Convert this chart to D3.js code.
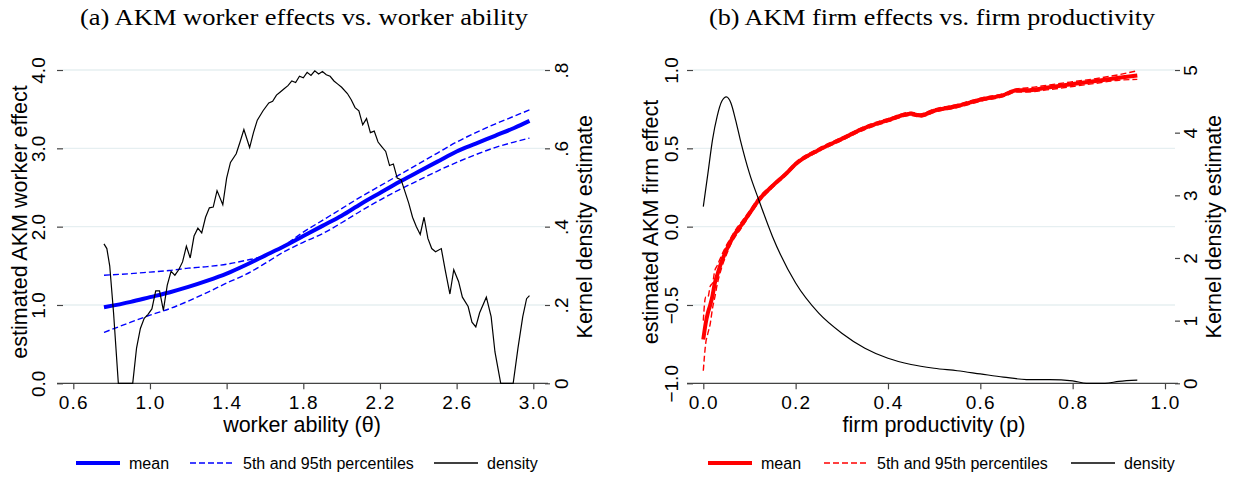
<!DOCTYPE html>
<html>
<head>
<meta charset="utf-8">
<script src="https://cdn.jsdelivr.net/npm/d3@7"></script>
<style>
  body { margin: 0; background: #fff; }
  svg { display: block; }
  text { font-family: "Liberation Sans", Arial, sans-serif; fill: #000; }
  .title { font-family: "Liberation Serif", "DejaVu Serif", serif; font-size: 23px; }
  .tick text { font-size: 19px; }
  .axisTitle { font-size: 21.5px; }
  .legendText { font-size: 16px; }
</style>
</head>
<body>
<div id="chart"></div>
<script>
// panel (a): worker ability grid and AKM worker effects
let abilityGrid = [0.76, 0.9, 1.0, 1.1, 1.2, 1.3, 1.4, 1.5, 1.6, 1.7, 1.8, 1.9, 2.0, 2.1, 2.2, 2.3, 2.4, 2.5, 2.6, 2.7, 2.8, 2.9, 2.98];
let workerMean = [0.97, 1.04, 1.10, 1.16, 1.23, 1.31, 1.40, 1.51, 1.63, 1.75, 1.88, 2.01, 2.14, 2.29, 2.43, 2.57, 2.70, 2.83, 2.96, 3.06, 3.16, 3.26, 3.35];
let workerP95 = [1.38, 1.40, 1.42, 1.44, 1.47, 1.49, 1.52, 1.57, 1.63, 1.76, 1.93, 2.08, 2.23, 2.38, 2.52, 2.66, 2.80, 2.94, 3.08, 3.20, 3.31, 3.41, 3.49];
let workerP5 = [0.65, 0.78, 0.87, 0.95, 1.05, 1.16, 1.28, 1.39, 1.53, 1.68, 1.80, 1.91, 2.05, 2.20, 2.34, 2.47, 2.59, 2.71, 2.82, 2.92, 3.01, 3.08, 3.13];

// panel (a): kernel density of worker ability
let densAx = [0.76, 0.775, 0.79, 0.81, 0.835, 0.91, 0.93, 0.95, 0.97, 0.99, 1.01, 1.03, 1.05, 1.07, 1.09, 1.11, 1.13, 1.15, 1.17, 1.19,
  1.21, 1.23, 1.25, 1.27, 1.29, 1.31, 1.33, 1.35, 1.38, 1.40, 1.42, 1.45, 1.47, 1.49, 1.52, 1.54, 1.56, 1.59, 1.62, 1.64,
  1.66, 1.68, 1.70, 1.72, 1.74, 1.76, 1.78, 1.80, 1.82, 1.84, 1.86, 1.88, 1.90, 1.92, 1.94, 1.96, 1.98, 2.00, 2.03, 2.05,
  2.07, 2.09, 2.11, 2.13, 2.15, 2.17, 2.19, 2.21, 2.23, 2.25, 2.27, 2.29, 2.31, 2.33, 2.35, 2.37, 2.39, 2.41, 2.43, 2.45,
  2.47, 2.49, 2.52, 2.54, 2.565, 2.585, 2.61, 2.63, 2.66, 2.68, 2.70, 2.72, 2.755, 2.78, 2.80, 2.83, 2.895, 2.92, 2.945, 2.965, 2.98];
let densAy = [0.356, 0.344, 0.30, 0.18, 0, 0, 0.09, 0.14, 0.166, 0.176, 0.19, 0.236, 0.236, 0.186, 0.25, 0.286, 0.276, 0.29, 0.31, 0.35,
  0.32, 0.376, 0.396, 0.384, 0.424, 0.448, 0.45, 0.492, 0.456, 0.524, 0.564, 0.586, 0.616, 0.648, 0.602, 0.64, 0.672, 0.696, 0.716, 0.72,
  0.736, 0.744, 0.752, 0.76, 0.772, 0.768, 0.784, 0.78, 0.794, 0.786, 0.798, 0.79, 0.796, 0.788, 0.784, 0.772, 0.764, 0.756, 0.74, 0.724,
  0.704, 0.696, 0.66, 0.676, 0.64, 0.644, 0.616, 0.604, 0.592, 0.556, 0.56, 0.524, 0.52, 0.49, 0.46, 0.424, 0.40, 0.38, 0.424, 0.37,
  0.344, 0.336, 0.344, 0.29, 0.228, 0.29, 0.26, 0.22, 0.196, 0.156, 0.144, 0.18, 0.22, 0.17, 0.08, 0, 0, 0.09, 0.17, 0.216, 0.224];

// panel (b): firm productivity grid and AKM firm effects
let prodGrid = [0, 0.005, 0.01, 0.015, 0.02, 0.025, 0.03, 0.04, 0.05, 0.06, 0.07, 0.08, 0.10, 0.12, 0.15, 0.18, 0.2, 0.25, 0.3, 0.35,
  0.4, 0.45, 0.47, 0.5, 0.55, 0.6, 0.65, 0.68, 0.7, 0.75, 0.8, 0.85, 0.9, 0.94];
let firmMean = [-0.72, -0.62, -0.55, -0.50, -0.44, -0.36, -0.31, -0.22, -0.15, -0.09, -0.04, 0.0, 0.085, 0.17, 0.26, 0.34, 0.40, 0.49, 0.56, 0.63,
  0.68, 0.72, 0.71, 0.74, 0.77, 0.81, 0.84, 0.87, 0.87, 0.89, 0.91, 0.93, 0.95, 0.965];
let firmP95 = [-0.60, -0.45, -0.45, -0.38, -0.36, -0.28, -0.25, -0.18, -0.12, -0.07, -0.02, 0.02, 0.10, 0.185, 0.27, 0.35, 0.41, 0.50, 0.57, 0.64,
  0.69, 0.73, 0.72, 0.75, 0.78, 0.82, 0.85, 0.88, 0.885, 0.905, 0.925, 0.945, 0.97, 0.995];
let firmP5 = [-0.92, -0.75, -0.68, -0.62, -0.52, -0.45, -0.37, -0.26, -0.18, -0.11, -0.06, -0.02, 0.07, 0.155, 0.25, 0.33, 0.39, 0.48, 0.55, 0.62,
  0.67, 0.71, 0.70, 0.73, 0.76, 0.80, 0.83, 0.86, 0.86, 0.875, 0.895, 0.915, 0.935, 0.94];

// panel (b): kernel density of firm productivity
let densBx = [0, 0.01, 0.02, 0.03, 0.04, 0.05, 0.06, 0.07, 0.08, 0.1, 0.12, 0.15, 0.2, 0.25, 0.3, 0.35, 0.4, 0.45, 0.5, 0.55,
  0.6, 0.65, 0.7, 0.75, 0.8, 0.83, 0.87, 0.9, 0.94];
let densBy = [2.82, 3.35, 3.89, 4.26, 4.5, 4.57, 4.47, 4.2, 3.89, 3.35, 2.93, 2.34, 1.6, 1.12, 0.8, 0.56, 0.4, 0.3, 0.24, 0.2,
  0.15, 0.1, 0.06, 0.06, 0.04, 0, 0, 0.03, 0.05];

// tick values
let ticksAx = [0.6, 1.0, 1.4, 1.8, 2.2, 2.6, 3.0];
let ticksAy = [0, 1, 2, 3, 4];
let ticksAy2 = [0, 0.2, 0.4, 0.6, 0.8];
let ticksBx = [0, 0.2, 0.4, 0.6, 0.8, 1.0];
let ticksBy = [-1, -0.5, 0, 0.5, 1];
let ticksBy2 = [0, 1, 2, 3, 4, 5];

let svgWidth = 1233;
let svgHeight = 477;

let svg = d3.select("#chart")
  .append("svg")
  .attr("width", svgWidth)
  .attr("height", svgHeight);

// draws one panel; cfg holds the layout numbers
function drawPanel(cfg) {
  let g = svg.append("g");
  let x = d3.scaleLinear().domain(cfg.xDomain).range(cfg.xRange);
  let y = d3.scaleLinear().domain(cfg.yDomain).range([383.3, 70]);
  let y2 = d3.scaleLinear().domain(cfg.y2Domain).range([383.3, 70]);

  // gridlines
  g.selectAll("line.grid")
    .data(cfg.yTicks)
    .enter()
    .append("line")
    .attr("x1", cfg.left)
    .attr("x2", cfg.right)
    .attr("y1", d => y(d))
    .attr("y2", d => y(d))
    .attr("stroke", "#e6eff1")
    .attr("stroke-width", 1.3);

  // x axis
  let xAxis = g.append("g")
    .attr("transform", "translate(0, 383.3)")
    .call(d3.axisBottom(x).tickValues(cfg.xTicks).tickSize(6).tickFormat(d3.format(".1f")));
  xAxis.select(".domain").remove();
  xAxis.selectAll(".tick line").attr("stroke", "#444").attr("stroke-width", 1.2);
  xAxis.selectAll(".tick text").attr("y", 26).attr("dy", null).style("letter-spacing", "1.2px");
  g.append("line")
    .attr("x1", cfg.left - 6)
    .attr("x2", cfg.right + 3)
    .attr("y1", 383.3)
    .attr("y2", 383.3)
    .attr("stroke", "#444")
    .attr("stroke-width", 1.3);

  // left axis
  let yAxis = g.append("g")
    .attr("transform", `translate(${cfg.left}, 0)`)
    .call(d3.axisLeft(y).tickValues(cfg.yTicks).tickSize(6).tickFormat(d3.format(".1f")));
  yAxis.select(".domain").remove();
  yAxis.selectAll(".tick line").attr("stroke", "#444").attr("stroke-width", 1.2);
  yAxis.selectAll(".tick text")
    .attr("x", null).attr("dy", null)
    .attr("text-anchor", "middle")
    .attr("transform", `translate(${cfg.yLabelOff}, 0) rotate(-90)`);

  // right axis
  let y2Axis = g.append("g")
    .attr("transform", `translate(${cfg.right}, 0)`)
    .call(d3.axisRight(y2).tickValues(cfg.y2Ticks).tickSize(5).tickFormat(cfg.y2Format));
  y2Axis.select(".domain").remove();
  y2Axis.selectAll(".tick line").attr("stroke", "#444").attr("stroke-width", 1.2);
  y2Axis.selectAll(".tick text")
    .attr("x", null).attr("dy", null)
    .attr("text-anchor", "middle")
    .attr("transform", `translate(${cfg.y2LabelOff}, 0) rotate(-90)`);

  // series
  let line = d3.line().x(d => x(d[0])).y(d => y(d[1]));
  let line2 = d3.line().x(d => x(d[0])).y(d => y2(d[1]));
  let zip = (a, b) => a.map((v, i) => [v, b[i]]);

  g.append("path")
    .attr("d", line.curve(d3.curveMonotoneX)(zip(cfg.grid, cfg.mean)))
    .attr("fill", "none").attr("stroke", cfg.color).attr("stroke-width", 4);
  [cfg.p5, cfg.p95].forEach(p => {
    g.append("path")
      .attr("d", line.curve(d3.curveMonotoneX)(zip(cfg.grid, p)))
      .attr("fill", "none").attr("stroke", cfg.color).attr("stroke-width", 1.4)
      .attr("stroke-dasharray", "6,3");
  });
  g.append("path")
    .attr("d", line2.curve(cfg.densCurve)(zip(cfg.densX, cfg.densY)))
    .attr("fill", "none").attr("stroke", "#000").attr("stroke-width", 1.2);

  // titles
  g.append("text")
    .attr("class", "title")
    .attr("x", cfg.titleX).attr("y", 25)
    .attr("text-anchor", "middle")
    .attr("textLength", cfg.titleLen)
    .attr("lengthAdjust", "spacingAndGlyphs")
    .text(cfg.title);
  g.append("text")
    .attr("class", "axisTitle")
    .attr("x", cfg.xTitleX).attr("y", 432)
    .attr("text-anchor", "middle")
    .text(cfg.xTitle);
  g.append("text")
    .attr("class", "axisTitle")
    .attr("text-anchor", "middle")
    .attr("transform", `translate(${cfg.yTitleX}, 222) rotate(-90)`)
    .text(cfg.yTitle);
  g.append("text")
    .attr("class", "axisTitle")
    .attr("text-anchor", "middle")
    .attr("transform", `translate(${cfg.y2TitleX}, 226.7) rotate(-90)`)
    .text("Kernel density estimate");

  // legend
  let lg = g.append("g").attr("transform", "translate(0, 463)");
  let items = [
    { x1: cfg.legend[0], w: 4, dash: null, color: cfg.color, label: "mean" },
    { x1: cfg.legend[1], w: 1.4, dash: "6,3", color: cfg.color, label: "5th and 95th percentiles" },
    { x1: cfg.legend[2], w: 1.4, dash: null, color: "#000", label: "density" }
  ];
  items.forEach(it => {
    lg.append("line")
      .attr("x1", it.x1).attr("x2", it.x1 + 44)
      .attr("y1", 0).attr("y2", 0)
      .attr("stroke", it.color).attr("stroke-width", it.w)
      .attr("stroke-dasharray", it.dash);
    lg.append("text")
      .attr("class", "legendText")
      .attr("x", it.x1 + 53).attr("y", 6)
      .text(it.label);
  });
}

drawPanel({
  xDomain: [0.6, 3.0], xRange: [73.3, 533.3],
  yDomain: [0, 4], y2Domain: [0, 0.8],
  left: 63, right: 545,
  xTicks: ticksAx, yTicks: ticksAy, y2Ticks: ticksAy2,
  y2Format: d => d === 0 ? "0" : d3.format(".1f")(d).replace(/^0/, ""),
  yLabelOff: -18, y2LabelOff: 23,
  grid: abilityGrid, mean: workerMean, p5: workerP5, p95: workerP95,
  densX: densAx, densY: densAy, densCurve: d3.curveLinear,
  color: "#0000ff",
  title: "(a) AKM worker effects vs. worker ability", titleX: 304, titleLen: 448,
  xTitle: "worker ability (\u03b8)", xTitleX: 302,
  yTitle: "estimated AKM worker effect", yTitleX: 27, y2TitleX: 592,
  legend: [76, 190, 434]
});

drawPanel({
  xDomain: [0, 1], xRange: [703.3, 1165],
  yDomain: [-1, 1], y2Domain: [0, 5],
  left: 693, right: 1175,
  xTicks: ticksBx, yTicks: ticksBy, y2Ticks: ticksBy2,
  y2Format: d3.format("d"),
  yLabelOff: -15, y2LabelOff: 22,
  grid: prodGrid, mean: firmMean, p5: firmP5, p95: firmP95,
  densX: densBx, densY: densBy, densCurve: d3.curveMonotoneX,
  color: "#ff0000",
  title: "(b) AKM firm effects vs. firm productivity", titleX: 932, titleLen: 446,
  xTitle: "firm productivity (p)", xTitleX: 934,
  yTitle: "estimated AKM firm effect", yTitleX: 658, y2TitleX: 1221,
  legend: [708, 824, 1071]
});
</script>
</body>
</html>
